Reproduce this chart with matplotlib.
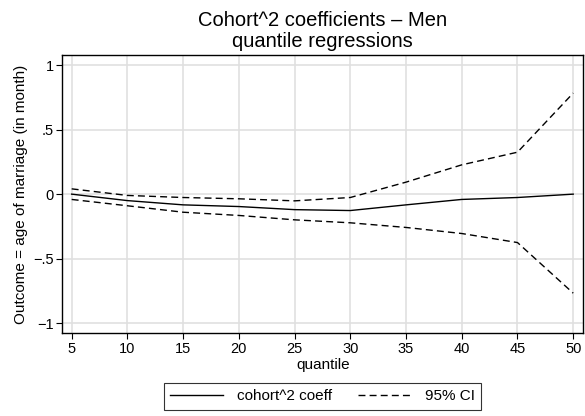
import matplotlib
matplotlib.use("Agg")
import matplotlib.pyplot as plt

# quantile regression estimates
quantiles = [5, 10, 15, 20, 25, 30, 35, 40, 45, 50]
coeff = [0.0, -0.05, -0.083, -0.096, -0.12, -0.127, -0.083, -0.041, -0.026, 0.0]
ci_upper = [0.041, -0.01, -0.026, -0.036, -0.052, -0.026, 0.093, 0.227, 0.325, 0.783]
ci_lower = [-0.041, -0.09, -0.14, -0.165, -0.199, -0.222, -0.258, -0.305, -0.375, -0.767]

ytick_vals = [-1, -0.5, 0, 0.5, 1]
ytick_labels = ["\u22121", "\u2212.5", "0", ".5", "1"]

plt.rcParams['font.family'] = ['Liberation Sans', 'DejaVu Sans']

fig = plt.figure(figsize=(5.85, 4.16), dpi=100)
ax = fig.add_axes([0.1065, 0.1988, 0.8905, 0.669])

ax.plot(quantiles, coeff, '-', color='black', lw=1.0, label='cohort^2 coeff')
ax.plot(quantiles, ci_upper, '--', color='black', lw=1.0, dashes=(5, 3), label='95% CI')
ax.plot(quantiles, ci_lower, '--', color='black', lw=1.0, dashes=(5, 3))

ax.set_xlim(4.16, 50.9)
ax.set_ylim(-1.078, 1.078)
ax.set_xticks(quantiles)
ax.set_yticks(ytick_vals)
ax.set_yticklabels(ytick_labels)
ax.grid(True, color='#e0e0e0', lw=1.2)
ax.set_axisbelow(True)
ax.tick_params(direction='out', length=4, width=0.8, labelsize=10.5, pad=2)
for s in ax.spines.values():
    s.set_color('black')
    s.set_linewidth(1.0)

ax.set_xlabel('quantile', fontsize=11, labelpad=2)
ax.set_ylabel('Outcome = age of marriage (in month)', fontsize=11, labelpad=4)
ax.set_title('Cohort^2 coefficients \u2013 Men\nquantile regressions',
             fontsize=14.5, linespacing=1.12, pad=6)

handles, labels = ax.get_legend_handles_labels()
leg = fig.legend(handles, labels, loc='center', bbox_to_anchor=(322.5 / 585, 1 - 396.5 / 416),
                 ncol=2, fontsize=11, frameon=True, fancybox=False,
                 edgecolor='black', handlelength=3.5, columnspacing=1.7,
                 borderpad=0.4, handletextpad=0.9)
leg.get_frame().set_linewidth(0.8)

fig.savefig('out.png', dpi=100)
